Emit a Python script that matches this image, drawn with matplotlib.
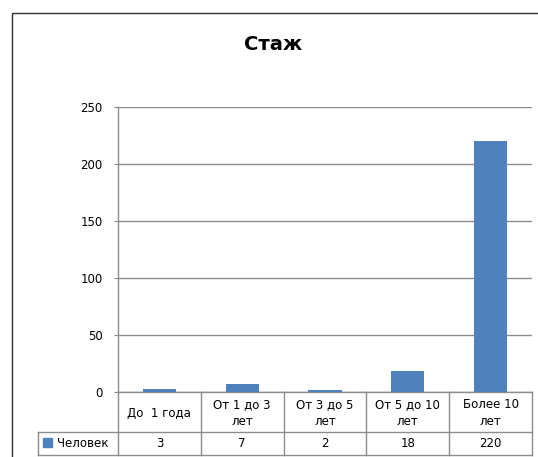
import matplotlib.pyplot as plt
from matplotlib.lines import Line2D
from matplotlib.patches import Rectangle

categories = ["До  1 года", "От 1 до 3\nлет", "От 3 до 5\nлет", "От 5 до 10\nлет", "Более 10\nлет"]
values = [3, 7, 2, 18, 220]
series_name = "Человек"
title = "Стаж"
yticks = [0, 50, 100, 150, 200, 250]

W, H = 538, 457
bar_color = "#4F81BD"
grid_color = "#8c8c8c"
fs = 8.5
plt.rcParams['font.family'] = ['DejaVu Sans']

fig = plt.figure(figsize=(W / 100, H / 100), dpi=100)


def fx(x):
    return x / W


def fy(y):
    return 1 - y / H


# plot area in pixels
left, right, top, zero = 118, 532, 107, 392
ax = fig.add_axes([fx(left), fy(zero), (right - left) / W, (zero - top) / H])
ax.bar(range(len(values)), values, width=0.4, color=bar_color, zorder=3)
ax.set_xlim(-0.5, len(values) - 0.5)
ax.set_ylim(0, 250)
ax.set_yticks(yticks)
ax.set_yticklabels([str(t) for t in yticks], fontsize=fs)
ax.set_xticks([])
ax.grid(axis='y', color=grid_color, linewidth=1)
for s in ["top", "right"]:
    ax.spines[s].set_visible(False)
for s in ["left", "bottom"]:
    ax.spines[s].set_color(grid_color)
    ax.spines[s].set_linewidth(1)
ax.tick_params(axis='y', length=3, color=grid_color, pad=8)

# outer chart border
fig.patches.append(Rectangle((fx(12), fy(470)), fx(540), fy(13) - fy(470),
                             transform=fig.transFigure, fill=False,
                             edgecolor="#333333", linewidth=1))

fig.text(fx(273), fy(45), title, ha='center', va='center',
         fontsize=14, fontweight='bold')

# data table under the axis
row1, row2, bottom = zero, 432, 455
n = len(values)
step = (right - left) / n
bounds = [left + i * step for i in range(n + 1)]


def line(x0, y0, x1, y1):
    fig.add_artist(Line2D([fx(x0), fx(x1)], [fy(y0), fy(y1)],
                          transform=fig.transFigure, color=grid_color, linewidth=1))


for b in bounds:
    line(b, row1, b, bottom)
line(38, row2, right, row2)
line(38, bottom, right, bottom)
line(38, row2, 38, bottom)

for i in range(n):
    cx = (bounds[i] + bounds[i + 1]) / 2
    fig.text(fx(cx), fy((row1 + row2) / 2 + 1), categories[i], ha='center', va='center',
             fontsize=fs, linespacing=1.4)
    fig.text(fx(cx), fy((row2 + bottom) / 2), str(values[i]), ha='center', va='center',
             fontsize=fs)

fig.patches.append(Rectangle((fx(43), fy(447)), fx(9), fy(438) - fy(447),
                             transform=fig.transFigure, color=bar_color))
fig.text(fx(57), fy((row2 + bottom) / 2), series_name, ha='left', va='center', fontsize=fs)

fig.savefig("out.png", dpi=100)
